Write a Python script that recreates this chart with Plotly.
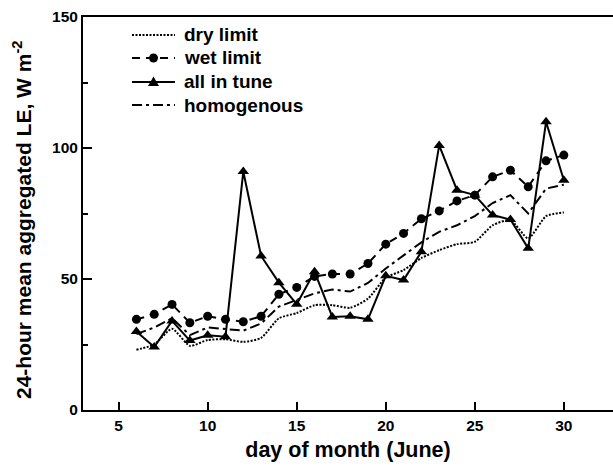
import plotly.graph_objects as go

# Day of month (June)
days = list(range(6, 31))

# 24-hour mean aggregated LE (W m-2) for each scenario
dry_limit = [23, 25, 31, 24.5, 26.7, 27, 26, 27.5, 35, 37, 40, 40, 39, 42.5,
             50.5, 53.4, 58, 61, 63.3, 64.2, 70.5, 72.5, 65.5, 74, 75.4]
wet_limit = [34.6, 36.5, 40.3, 33.3, 35.8, 34.6, 33.7, 35.8, 44.2, 46.8, 51, 51.9,
             51.9, 55.9, 63.3, 67.4, 73, 76, 79.8, 82, 89, 91.5, 85.2, 95.1, 97.3]
all_in_tune = [30, 24, 34, 26.5, 28.5, 28, 91, 58.8, 48.6, 40.4, 52.8, 35.5, 35.8,
               34.6, 51.2, 49.6, 60.4, 101, 83.9, 82, 74.4, 72.7, 61.7, 110, 87.7]
homogenous = [29, 31.5, 35, 28.6, 31.5, 30.8, 30.3, 33, 39.5, 42, 44.5, 46, 45.2,
              48.5, 54, 59, 64, 68, 70.5, 74, 79, 82, 75, 84.5, 86]

x_ticks = [5, 10, 15, 20, 25, 30]
y_ticks = [0, 50, 100, 150]

FONT = "Liberation Sans"
ink = "black"

W, H = 613, 468
ML, MR, MT, MB = 83, 0, 17, 58
PW, PH = W - ML - MR, H - MT - MB

DRY_DASH = "2px,1.5px"
WET_DASH = "8px,6px"
HOM_DASH = "10px,4px,3px,4px"

series = [
    dict(name="dry limit", y=dry_limit, dash=DRY_DASH, marker=None, spline=True),
    dict(name="wet limit", y=wet_limit, dash=WET_DASH, marker="circle", spline=False),
    dict(name="all in tune", y=all_in_tune, dash="solid", marker="triangle-up", spline=False),
    dict(name="homogenous", y=homogenous, dash=HOM_DASH, marker=None, spline=False),
]

fig = go.Figure()
for s in series:
    line = dict(color=ink, width=2, dash=s["dash"])
    if s["spline"]:
        line.update(shape="spline", smoothing=0.6)
    kw = dict(x=days, y=s["y"], name=s["name"], line=line, showlegend=False)
    if s["marker"]:
        size = 9 if s["marker"] == "circle" else 10
        kw.update(mode="lines+markers", marker=dict(symbol=s["marker"], size=size, color=ink))
    else:
        kw.update(mode="lines")
    fig.add_trace(go.Scatter(**kw))


# Key in the upper-left corner of the plot, laid out in pixels
def px_x(px):
    return (px - ML) / PW


def px_y(py):
    return (MT + PH - py) / PH


key_x0, key_x1, key_text = 132, 175, 182
key_rows = [35, 58, 82, 105]
shapes, annotations = [], []
for s, row in zip(series, key_rows):
    shapes.append(dict(type="line", xref="paper", yref="paper",
                       x0=px_x(key_x0), x1=px_x(key_x1), y0=px_y(row), y1=px_y(row),
                       line=dict(color=ink, width=2, dash=s["dash"])))
    cx = (key_x0 + key_x1) / 2
    if s["marker"] == "circle":
        r = 4.5
        shapes.append(dict(type="circle", xref="paper", yref="paper",
                           x0=px_x(cx - r), x1=px_x(cx + r),
                           y0=px_y(row + r), y1=px_y(row - r),
                           fillcolor=ink, line=dict(color=ink, width=0)))
    elif s["marker"] == "triangle-up":
        path = (f"M {px_x(cx)} {px_y(row - 5.5)} L {px_x(cx - 5.5)} {px_y(row + 4)} "
                f"L {px_x(cx + 5.5)} {px_y(row + 4)} Z")
        shapes.append(dict(type="path", xref="paper", yref="paper", path=path,
                           fillcolor=ink, line=dict(color=ink, width=0)))
    annotations.append(dict(xref="paper", yref="paper", x=px_x(key_text), y=px_y(row),
                            xanchor="left", yanchor="middle", showarrow=False,
                            text=s["name"],
                            font=dict(family=FONT, size=19, color=ink, weight="bold")))

# Vertical axis title, set slightly below the plot's mid-height
annotations.append(dict(xref="paper", yref="paper", x=px_x(22), y=px_y(220),
                        xanchor="center", yanchor="middle", showarrow=False,
                        textangle=-90,
                        text="24-hour mean aggregated LE, W m<sup>-2</sup>",
                        font=dict(family=FONT, size=21, color=ink, weight="bold")))

fig.update_layout(
    width=W, height=H,
    margin=dict(l=ML, r=MR, t=MT, b=MB),
    paper_bgcolor="white", plot_bgcolor="white",
    font=dict(family=FONT, color=ink, weight="bold"),
    showlegend=False,
    shapes=shapes,
    annotations=annotations,
    xaxis=dict(
        range=[3, 32.76], tickmode="array", tickvals=x_ticks,
        ticks="inside", ticklen=8, tickwidth=2, tickcolor=ink,
        showline=True, linewidth=2, linecolor=ink, mirror=True,
        showgrid=False, zeroline=False,
        tickfont=dict(family=FONT, size=15.5, color=ink, weight="bold"),
        title=dict(text="day of month (June)", standoff=9,
                   font=dict(family=FONT, size=21.5, color=ink, weight="bold")),
    ),
    yaxis=dict(
        range=[0, 150], tickmode="array", tickvals=y_ticks,
        ticks="inside", ticklen=9, tickwidth=2, tickcolor=ink,
        minor=dict(tickmode="array", tickvals=[25, 75, 125], ticks="inside",
                   ticklen=5, tickwidth=2, tickcolor=ink),
        showline=True, linewidth=2, linecolor=ink, mirror=False,
        showgrid=False, zeroline=False,
        tickfont=dict(family=FONT, size=15.5, color=ink, weight="bold"),
    ),
)

fig.write_html("out.html")
